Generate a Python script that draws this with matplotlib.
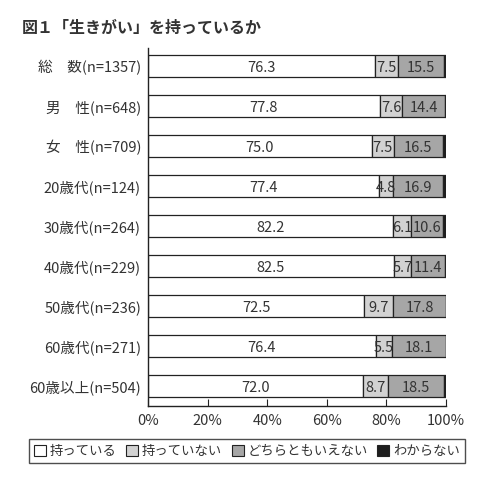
import matplotlib
matplotlib.use("Agg")
import matplotlib.pyplot as plt
from matplotlib.patches import Patch

plt.rcParams['font.family'] = ['Noto Sans CJK JP', 'DejaVu Sans']

categories = ["総\u3000数(n=1357)", "男\u3000性(n=648)", "女\u3000性(n=709)",
              "20歳代(n=124)", "30歳代(n=264)", "40歳代(n=229)",
              "50歳代(n=236)", "60歳代(n=271)", "60歳以上(n=504)"]
have = [76.3, 77.8, 75.0, 77.4, 82.2, 82.5, 72.5, 76.4, 72.0]
have_not = [7.5, 7.6, 7.5, 4.8, 6.1, 5.7, 9.7, 5.5, 8.7]
neither = [15.5, 14.4, 16.5, 16.9, 10.6, 11.4, 17.8, 18.1, 18.5]
unknown = [0.7, 0.2, 1.0, 0.9, 1.1, 0.4, 0.0, 0.0, 0.8]
series_names = ["持っている", "持っていない", "どちらともいえない", "わからない"]
colors = ["#ffffff", "#d2d2d2", "#a6a6a6", "#1e1e1e"]

fig = plt.figure(figsize=(4.96, 4.91), dpi=100)
ax = fig.add_axes([148 / 496, 1 - 406 / 491, 298 / 496, 358 / 491])

ypos = list(range(len(categories)))
left = [0.0] * len(categories)
for i, vals in enumerate([have, have_not, neither, unknown]):
    ax.barh(ypos, vals, left=left, height=0.57, color=colors[i],
            edgecolor="#222222", linewidth=0.9)
    if i < 3:
        for y, l, v in zip(ypos, left, vals):
            ax.text(l + v / 2, y + 0.05, f"{v:.1f}", ha="center", va="center",
                    fontsize=10.5, color="#333333")
    left = [a + b for a, b in zip(left, vals)]

ax.set_xlim(0, 100)
ax.set_ylim(len(categories) - 0.5, -0.45)
ax.set_yticks(ypos)
ax.set_yticklabels(categories, fontsize=10.5, color="#333333")
ax.tick_params(axis="y", length=0, pad=5)
ax.set_xticks([0, 20, 40, 60, 80, 100])
ax.set_xticklabels(["0%", "20%", "40%", "60%", "80%", "100%"], fontsize=10.5, color="#333333")
ax.tick_params(axis="x", direction="in", length=5, color="#222222", pad=6)
for s in ["top", "right"]:
    ax.spines[s].set_visible(False)
for s in ["left", "bottom"]:
    ax.spines[s].set_color("#222222")
    ax.spines[s].set_linewidth(1.0)

fig.text(22 / 496, 1 - 28 / 491, "図１「生きがい」を持っているか", fontsize=11.5,
         fontweight="bold", color="#333333", va="center", ha="left")

handles = [Patch(facecolor=c, edgecolor="#222222", linewidth=0.8) for c in colors]
leg = fig.legend(handles, series_names, loc="center", ncol=4,
                 bbox_to_anchor=(247 / 496, 1 - 451 / 491), fontsize=9.6,
                 frameon=True, fancybox=False, edgecolor="#222222",
                 handlelength=0.9, handleheight=0.9, handletextpad=0.3,
                 columnspacing=0.7, borderpad=0.35)
leg.get_frame().set_linewidth(1.0)
for t in leg.get_texts():
    t.set_color("#333333")

fig.savefig("out.png", dpi=100)
